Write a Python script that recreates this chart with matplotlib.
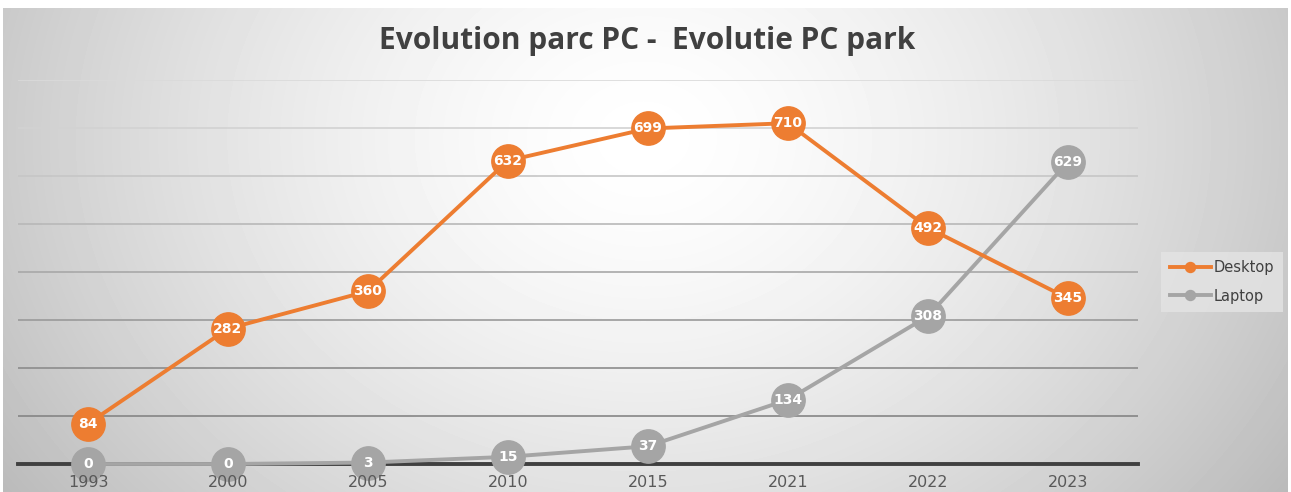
import numpy as np
import matplotlib.pyplot as plt

# data
years = ['1993', '2000', '2005', '2010', '2015', '2021', '2022', '2023']
desktop = [84, 282, 360, 632, 699, 710, 492, 345]
laptop = [0, 0, 3, 15, 37, 134, 308, 629]

W, H = 1291, 492
fig = plt.figure(figsize=(W / 100, H / 100), dpi=100)
fig.patch.set_facecolor('white')

# radial grey gradient background
bg = fig.add_axes([3 / W, 0, (1288 - 3) / W, (492 - 8) / H])
yy, xx = np.mgrid[0:484, 0:1285]
r = np.sqrt(((xx - 640) / 700.0) ** 2 + ((yy - 130) / 560.0) ** 2)
val = 1.0 - 0.23 * np.clip(r, 0, 1.2) ** 1.5
bg.imshow(val, cmap='gray', vmin=0, vmax=1, aspect='auto', interpolation='bilinear')
bg.axis('off')

ax = fig.add_axes([18 / W, 28 / H, 1120 / W, 384 / H])
ax.patch.set_alpha(0)
x = np.arange(len(years))

# gridlines, getting darker towards the bottom
grid_cols = ['#858585', '#8c8c8c', '#9a9a9a', '#a8a8a8', '#b8b8b8', '#c6c6c6', '#d2d2d2', '#dadada']
for v, c in zip(range(100, 900, 100), grid_cols):
    ax.axhline(v, color=c, lw=1.2, zorder=1)
ax.axhline(0, color='#404040', lw=2.8, zorder=2, clip_on=False)

orange = '#ED7D31'
grey = '#A5A5A5'
ax.plot(x, desktop, color=orange, lw=2.8, marker='o', ms=24, mec=orange, label='Desktop', zorder=4, clip_on=False)
ax.plot(x, laptop, color=grey, lw=2.8, marker='o', ms=24, mec=grey, label='Laptop', zorder=3, clip_on=False)

for xi, v in zip(x, desktop):
    ax.text(xi, v, str(v), color='white', fontsize=10, fontweight='bold', ha='center', va='center', zorder=6)
for xi, v in zip(x, laptop):
    ax.text(xi, v, str(v), color='white', fontsize=10, fontweight='bold', ha='center', va='center', zorder=5)

ax.set_xlim(-0.5, 7.5)
ax.set_ylim(0, 800)
ax.set_xticks(x)
ax.set_xticklabels(years, color='#595959', fontsize=11.5)
ax.tick_params(axis='x', length=0, pad=8)
ax.xaxis.set_zorder(10)
ax.set_yticks([])
for s in ax.spines.values():
    s.set_visible(False)

fig.text(647 / W, 1 - 41 / H, 'Evolution parc PC -  Evolutie PC park', ha='center', va='center',
         fontsize=21.5, fontweight='bold', color='#404040', family='Open Sans')

leg = ax.legend(loc='center', bbox_to_anchor=(1222 / W, 1 - 282 / H), bbox_transform=fig.transFigure,
                fontsize=10.5, frameon=True, fancybox=False, markerscale=0.3, handlelength=2.8,
                handletextpad=0.2, labelspacing=0.9, borderpad=0.6)
leg.get_frame().set_facecolor('#e4e4e4')
leg.get_frame().set_edgecolor('none')
for t in leg.get_texts():
    t.set_color('#404040')

fig.savefig('out.png', dpi=100)
